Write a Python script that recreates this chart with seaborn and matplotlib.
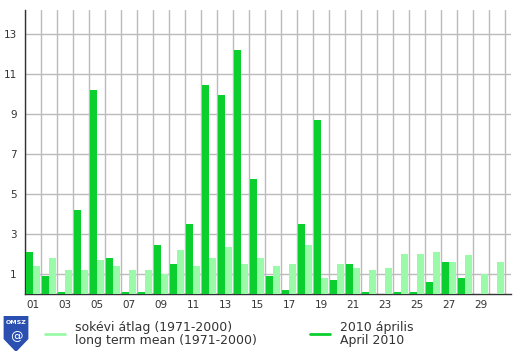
import numpy as np
import pandas as pd
import matplotlib
matplotlib.use('Agg')
import matplotlib.pyplot as plt
from matplotlib.lines import Line2D
from matplotlib.patches import Polygon
import seaborn as sns

# Daily precipitation, April 2010 vs long term mean
days = [f"{d:02d}" for d in range(1, 31)]
april_2010 = [2.1, 0.9, 0.1, 4.2, 10.2, 1.8, 0.1, 0.1, 2.45, 1.5,
              3.5, 10.47, 9.97, 12.22, 5.76, 0.9, 0.2, 3.5, 8.71, 0.7,
              1.5, 0.1, 0.0, 0.1, 0.1, 0.6, 1.6, 0.8, 0.0, 0.0]
long_term = [1.4, 1.8, 1.2, 1.2, 1.7, 1.4, 1.2, 1.2, 1.0, 2.2,
             1.4, 1.8, 2.35, 1.5, 1.8, 1.4, 1.5, 2.45, 0.8, 1.5,
             1.3, 1.2, 1.3, 2.0, 2.0, 2.1, 1.6, 1.95, 1.0, 1.6]
y_major = [1, 3, 5, 7, 9, 11, 13]
y_minor = [2, 4, 6, 8, 10, 12]

DARK = '#0acf2e'
LIGHT = '#99faa8'

df = pd.DataFrame({
    'day': days * 2,
    'value': april_2010 + long_term,
    'series': ['2010'] * 30 + ['mean'] * 30,
})

sns.set_style('white')
plt.rcParams['font.family'] = ['DejaVu Sans']

fig = plt.figure(figsize=(5.2, 3.54), dpi=100)
ax = fig.add_axes([25 / 520, 60 / 354, 486 / 520, 284 / 354])

sns.barplot(data=df, x='day', y='value', hue='series', order=days,
            hue_order=['2010', 'mean'], palette=[DARK, LIGHT],
            width=0.84, saturation=1, legend=False, ax=ax, zorder=3)
for p in ax.patches:
    p.set_linewidth(0)

ax.set_xlim(-0.5, 29.875)
ax.set_ylim(0, 14.2)
ax.set_xlabel('')
ax.set_ylabel('')

# vertical grid on day boundaries, labels on odd days
bounds = np.arange(-0.5, 30, 1)
ax.set_xticks(bounds)
ax.set_xticklabels([])
ax.set_xticks(np.arange(0, 30, 2), minor=True)
ax.set_xticklabels(days[::2], minor=True)
ax.tick_params(axis='x', which='major', length=4, width=1, color='#333333', direction='out')
ax.tick_params(axis='x', which='minor', length=0, pad=4, labelsize=7.5, labelcolor='#333333')
ax.grid(axis='x', which='major', color='#bbbbbb', linewidth=1, zorder=0)

ax.set_yticks(y_major)
ax.set_yticks(y_minor, minor=True)
ax.tick_params(axis='y', which='both', length=4, width=1, color='#333333', labelsize=7.5,
               labelcolor='#333333', pad=2)
ax.grid(axis='y', which='major', color='#bbbbbb', linewidth=1, zorder=0)
ax.set_axisbelow(True)

for s in ['top', 'right']:
    ax.spines[s].set_visible(False)
for s in ['left', 'bottom']:
    ax.spines[s].set_color('#333333')
    ax.spines[s].set_linewidth(1)

# legend drawn by hand
def legend_item(x0, color, lines):
    fig.add_artist(Line2D([x0 / 520, (x0 + 20) / 520], [1 - 334 / 354] * 2,
                          transform=fig.transFigure, color=color, linewidth=2))
    fig.text((x0 + 30) / 520, 1 - 334 / 354, lines, fontsize=9, color='#333333',
             va='center', ha='left', linespacing=1.0)

legend_item(45, LIGHT, 'sokévi átlag (1971-2000)\nlong term mean (1971-2000)')
legend_item(310, DARK, '2010 április\nApril 2010')

# OMSZ logo (simplified shield)
lax = fig.add_axes([3 / 520, 3 / 354, 26 / 520, 35 / 354])
lax.set_xlim(0, 1)
lax.set_ylim(0, 1)
lax.axis('off')
lax.add_patch(Polygon([[0.05, 1], [0.95, 1], [0.95, 0.35], [0.5, 0.0], [0.05, 0.35]],
                      closed=True, color='#2a4fb0'))
lax.text(0.5, 0.82, 'OMSZ', color='white', fontsize=4.5, fontweight='bold',
         ha='center', va='center')
lax.text(0.5, 0.42, '@', color='white', fontsize=9, ha='center', va='center')

fig.savefig('out.png', dpi=100)
